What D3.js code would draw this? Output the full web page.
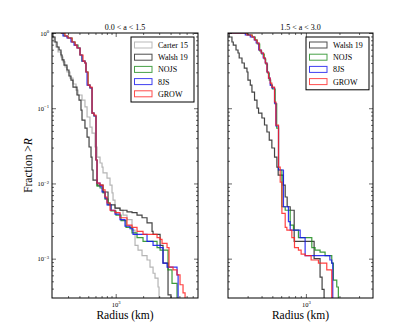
<!DOCTYPE html>
<html lang="en">
<head>
<meta charset="utf-8">
<script src="https://cdn.jsdelivr.net/npm/d3@7"></script>
<style>
body { margin: 0; background: #fff; }
text { font-family: "Liberation Serif", "DejaVu Serif", serif; fill: #000; }
.tick line { stroke: #000; stroke-width: 0.6px; }
.domain { display: none; }
</style>
</head>
<body>
<script>

// ---- data: radius (km) where each step starts, and fraction > R ----
// left panel, 0.0 < a < 1.5
var carterR_L = [190, 200, 210, 221, 233, 251, 264, 278, 292, 315, 340, 367, 386, 427, 460, 485, 522, 550, 593, 624, 673, 708, 726, 803, 866, 911, 935, 983, 1115, 1204, 1330, 1510, 1630, 1758, 1945, 2207, 2380, 2570, 2700, 2914, 2990];
var carterF_L = [1, 0.885, 0.759, 0.651, 0.559, 0.480, 0.412, 0.353, 0.303, 0.252, 0.210, 0.174, 0.150, 0.128, 0.104, 0.0764, 0.0562, 0.0468, 0.0305, 0.0224, 0.0187, 0.0165, 0.0138, 0.0118, 0.0095, 0.0075, 0.0060, 0.0047, 0.0044, 0.0038, 0.0033, 0.0024, 0.0015, 0.0013, 0.0011, 0.00096, 0.00077, 0.00064, 0.00055, 0.00042, 0.00015];

var walshR_L = [190, 205, 216, 227, 239, 251, 258, 271, 292, 307, 323, 340, 376, 396, 416, 427, 460, 485, 510, 536, 550, 564, 624, 726, 824, 866, 983, 1115, 1330, 1510, 1714, 1945, 2207, 2505, 2570, 3070, 3305, 3752, 4046];
var walshF_L = [1, 0.885, 0.759, 0.651, 0.594, 0.510, 0.438, 0.375, 0.322, 0.268, 0.237, 0.191, 0.150, 0.128, 0.0945, 0.0696, 0.0545, 0.0414, 0.0305, 0.0224, 0.0151, 0.0111, 0.0095, 0.0077, 0.0055, 0.0052, 0.0047, 0.0044, 0.0042, 0.0041, 0.0038, 0.0035, 0.0030, 0.0023, 0.0021, 0.0015, 0.00087, 0.00033, 0.00021];

var nojsR_L = [250, 271, 300, 332, 358, 386, 406, 427, 460, 472, 497, 522, 550, 578, 608, 624, 673, 726, 764, 824, 888, 1008, 1143, 1298, 1510, 1714, 1995, 2842, 3070, 3752, 4150, 4710];
var nojsF_L = [1, 0.912, 0.858, 0.759, 0.692, 0.632, 0.510, 0.424, 0.399, 0.303, 0.203, 0.186, 0.0863, 0.0788, 0.0205, 0.0092, 0.0087, 0.0075, 0.0062, 0.0052, 0.0043, 0.0038, 0.0032, 0.0026, 0.0022, 0.0019, 0.0017, 0.0014, 0.0013, 0.00071, 0.00047, 0.00015];

var js8R_L = [250, 264, 292, 323, 349, 376, 406, 427, 460, 472, 485, 522, 550, 578, 608, 624, 673, 708, 764, 803, 888, 983, 1115, 1265, 1436, 1550, 2207, 2570, 3070, 3305, 3660, 4710, 4840];
var js8F_L = [1, 0.912, 0.858, 0.759, 0.692, 0.632, 0.510, 0.424, 0.399, 0.303, 0.203, 0.186, 0.0863, 0.0788, 0.0205, 0.0101, 0.0092, 0.0077, 0.0064, 0.0052, 0.0044, 0.0039, 0.0033, 0.0027, 0.0025, 0.0021, 0.0017, 0.0015, 0.0014, 0.00087, 0.00077, 0.00061, 0.00015];

var growR_L = [250, 278, 300, 332, 358, 376, 406, 438, 460, 472, 497, 522, 550, 578, 608, 624, 673, 726, 764, 803, 866, 983, 1115, 1330, 1510, 1714, 1995, 2842, 3070, 3224, 3660, 3848, 4258, 4710, 5080, 5480, 5770];
var growF_L = [1, 0.912, 0.858, 0.759, 0.692, 0.632, 0.510, 0.424, 0.399, 0.303, 0.203, 0.191, 0.0863, 0.0811, 0.0205, 0.0101, 0.0095, 0.0082, 0.0066, 0.0055, 0.0044, 0.0041, 0.0035, 0.0028, 0.0026, 0.0023, 0.0021, 0.0019, 0.0018, 0.0016, 0.0014, 0.00077, 0.00071, 0.00061, 0.00045, 0.00035, 0.00015];

// right panel, 1.5 < a < 3.0
var walshR_R = [190, 205, 217, 223, 236, 246, 252, 267, 280, 296, 302, 317, 328, 346, 364, 376, 403, 425, 447, 469, 495, 523, 549, 564, 625, 652, 679, 723, 785, 1185, 1340, 1397, 1456];
var walshF_R = [1, 0.885, 0.759, 0.692, 0.594, 0.542, 0.465, 0.399, 0.342, 0.303, 0.237, 0.203, 0.164, 0.128, 0.100, 0.0863, 0.0741, 0.0598, 0.0483, 0.0377, 0.0296, 0.0224, 0.0165, 0.0129, 0.0095, 0.0066, 0.0049, 0.0044, 0.0017, 0.0010, 0.00057, 0.00039, 0.00015];

var nojsR_R = [200, 298, 330, 351, 366, 385, 401, 423, 436, 452, 469, 483, 501, 530, 547, 568, 609, 652, 723, 773, 857, 1130, 1209, 1340, 1486, 1706, 1764, 1892, 1955];
var nojsF_R = [1, 0.941, 0.885, 0.807, 0.714, 0.576, 0.526, 0.451, 0.387, 0.294, 0.237, 0.203, 0.180, 0.114, 0.0545, 0.0151, 0.0049, 0.0044, 0.0028, 0.0024, 0.0019, 0.0014, 0.0013, 0.00122, 0.0011, 0.00087, 0.00052, 0.00042, 0.00015];

var js8R_R = [200, 286, 317, 344, 358, 377, 397, 414, 432, 447, 462, 478, 495, 523, 538, 568, 629, 697, 723, 888, 984, 1641, 1706, 1742];
var js8F_R = [1, 0.941, 0.885, 0.807, 0.736, 0.594, 0.542, 0.465, 0.399, 0.303, 0.252, 0.203, 0.186, 0.117, 0.058, 0.0151, 0.0049, 0.0031, 0.0024, 0.0019, 0.0011, 0.00096, 0.00087, 0.00015];

var growR_R = [200, 296, 328, 346, 364, 381, 397, 417, 432, 447, 462, 478, 495, 523, 538, 568, 588, 609, 652, 675, 748, 790, 857, 906, 984, 1114, 1295, 1539, 1706];
var growF_R = [1, 0.941, 0.885, 0.807, 0.736, 0.594, 0.542, 0.465, 0.399, 0.303, 0.252, 0.216, 0.191, 0.121, 0.0597, 0.0165, 0.0104, 0.0040, 0.0026, 0.0024, 0.0019, 0.0014, 0.0013, 0.00115, 0.0011, 0.00096, 0.00087, 0.00071, 0.00015];

var titles = ["0.0 < a < 1.5", "1.5 < a < 3.0"];
var yMajor = [1, 0.1, 0.01, 0.001];

// ---- layout ----
var width = 415, height = 332;
var plotTop = 33, plotBottom = 298;

var svg = d3.select("body").append("svg")
    .attr("width", width)
    .attr("height", height);

function zip(r, f) { return r.map(function(d, i) { return [d, f[i]]; }); }

var panels = [
  { left: 52, right: 198, xdom: [200, 8000], title: titles[0], ylabels: true,
    series: [
      { name: "Carter 15", color: "#a8a8a8", data: zip(carterR_L, carterF_L) },
      { name: "Walsh 19", color: "#222222", data: zip(walshR_L, walshF_L) },
      { name: "NOJS", color: "#1a8a1a", data: zip(nojsR_L, nojsF_L) },
      { name: "8JS", color: "#1010ee", data: zip(js8R_L, js8F_L) },
      { name: "GROW", color: "#ff2020", data: zip(growR_L, growF_L) }
    ] },
  { left: 228, right: 373, xdom: [200, 4000], title: titles[1], ylabels: false,
    series: [
      { name: "Walsh 19", color: "#222222", data: zip(walshR_R, walshF_R) },
      { name: "NOJS", color: "#1a8a1a", data: zip(nojsR_R, nojsF_R) },
      { name: "8JS", color: "#1010ee", data: zip(js8R_R, js8F_R) },
      { name: "GROW", color: "#ff2020", data: zip(growR_R, growF_R) }
    ] }
];

var y = d3.scaleLog().domain([3e-4, 1]).range([plotBottom, plotTop]);

// minor log ticks inside a domain
function minorTicks(dom) {
  var out = [];
  for (var e = -5; e <= 5; e++) {
    for (var k = 2; k <= 9; k++) {
      var v = k * Math.pow(10, e);
      if (v > dom[0] * 1.0001 && v < dom[1] * 0.9999) out.push(v);
    }
  }
  return out;
}

// replace tick text with 10 and a superscript exponent
function supText(g) {
  g.selectAll(".tick text").each(function(d) {
    var t = d3.select(this);
    var e = Math.round(Math.log10(d));
    t.text(null);
    t.append("tspan").text("10");
    t.append("tspan").attr("dy", "-0.55em").attr("font-size", "4.6px")
      .text(e < 0 ? "\u2212" + (-e) : e);
  });
}

panels.forEach(function(p, pi) {
  var x = d3.scaleLog().domain(p.xdom).range([p.left, p.right]);
  var g = svg.append("g");

  var clipId = "clip" + pi;
  svg.append("clipPath").attr("id", clipId)
    .append("rect")
      .attr("x", p.left).attr("y", plotTop)
      .attr("width", p.right - p.left).attr("height", plotBottom - plotTop);

  // step lines
  var line = d3.line()
      .x(function(d) { return x(d[0]); })
      .y(function(d) { return y(d[1]); })
      .curve(d3.curveStepAfter);

  g.append("g").attr("clip-path", "url(#" + clipId + ")")
    .selectAll("path")
    .data(p.series)
    .enter().append("path")
      .attr("d", function(s) {
        var pts = s.data.slice();
        pts.push([p.xdom[1] * 2, pts[pts.length - 1][1]]);
        return line(pts);
      })
      .attr("fill", "none")
      .attr("stroke", function(s) { return s.color; })
      .attr("stroke-width", 1.2)
      .attr("stroke-opacity", 0.85);

  // axes (ticks pointing inwards, all four sides)
  var xMaj = [1000], xMin = minorTicks(p.xdom), yMin = minorTicks(y.domain());

  var bx = g.append("g").attr("transform", "translate(0," + plotBottom + ")")
    .call(d3.axisBottom(x).tickValues(xMaj).tickSize(-4).tickPadding(4).tickFormat(function(d) { return d; }));
  bx.selectAll("text").attr("font-size", "6.5px").attr("font-family", "Liberation Serif");
  supText(bx);
  g.append("g").attr("transform", "translate(0," + plotBottom + ")")
    .call(d3.axisBottom(x).tickValues(xMin).tickSize(-2).tickFormat(""));
  g.append("g").attr("transform", "translate(0," + plotTop + ")")
    .call(d3.axisTop(x).tickValues(xMaj).tickSize(-4).tickFormat(""));
  g.append("g").attr("transform", "translate(0," + plotTop + ")")
    .call(d3.axisTop(x).tickValues(xMin).tickSize(-2).tickFormat(""));

  var ly = g.append("g").attr("transform", "translate(" + p.left + ",0)")
    .call(d3.axisLeft(y).tickValues(yMajor).tickSize(-4).tickPadding(3)
      .tickFormat(p.ylabels ? function(d) { return d; } : ""));
  ly.selectAll("text").attr("font-size", "6.5px").attr("font-family", "Liberation Serif");
  if (p.ylabels) supText(ly);
  g.append("g").attr("transform", "translate(" + p.left + ",0)")
    .call(d3.axisLeft(y).tickValues(yMin).tickSize(-2).tickFormat(""));
  g.append("g").attr("transform", "translate(" + p.right + ",0)")
    .call(d3.axisRight(y).tickValues(yMajor).tickSize(-4).tickFormat(""));
  g.append("g").attr("transform", "translate(" + p.right + ",0)")
    .call(d3.axisRight(y).tickValues(yMin).tickSize(-2).tickFormat(""));

  // frame
  g.append("rect")
    .attr("x", p.left).attr("y", plotTop)
    .attr("width", p.right - p.left).attr("height", plotBottom - plotTop)
    .attr("fill", "none").attr("stroke", "#000").attr("stroke-width", 1);

  // title and x label
  g.append("text")
    .attr("x", (p.left + p.right) / 2).attr("y", 30)
    .attr("text-anchor", "middle").attr("font-size", "8px")
    .text(p.title);
  g.append("text")
    .attr("x", (p.left + p.right) / 2).attr("y", 319)
    .attr("text-anchor", "middle").attr("font-size", "11.5px")
    .text("Radius (km)");

  // legend
  var lw = 63, rowH = 12.2;
  var lx = p.right - 4 - lw, legTop = plotTop + 4;
  var lh = p.series.length * rowH + 4;
  var leg = g.append("g");
  leg.append("rect")
    .attr("x", lx).attr("y", legTop).attr("width", lw).attr("height", lh)
    .attr("fill", "#fff").attr("stroke", "#000").attr("stroke-width", 1);
  var rows = leg.selectAll("g.row").data(p.series).enter().append("g")
    .attr("transform", function(d, i) { return "translate(" + lx + "," + (legTop + 8 + i * rowH) + ")"; });
  rows.append("rect")
    .attr("x", 3.5).attr("y", -3).attr("width", 17.5).attr("height", 6)
    .attr("fill", "#fff")
    .attr("stroke", function(d) { return d.color; })
    .attr("stroke-opacity", 0.8)
    .attr("stroke-width", 1);
  rows.append("text")
    .attr("x", 27).attr("y", 3)
    .attr("font-size", "8px")
    .text(function(d) { return d.name; });
});

// y label
svg.append("text")
  .attr("transform", "translate(32," + ((plotTop + plotBottom) / 2) + ") rotate(-90)")
  .attr("text-anchor", "middle")
  .attr("font-size", "11.5px")
  .call(function(t) {
    t.append("tspan").text("Fraction >");
    t.append("tspan").attr("font-style", "italic").text("R");
  });

</script>
</body>
</html>
